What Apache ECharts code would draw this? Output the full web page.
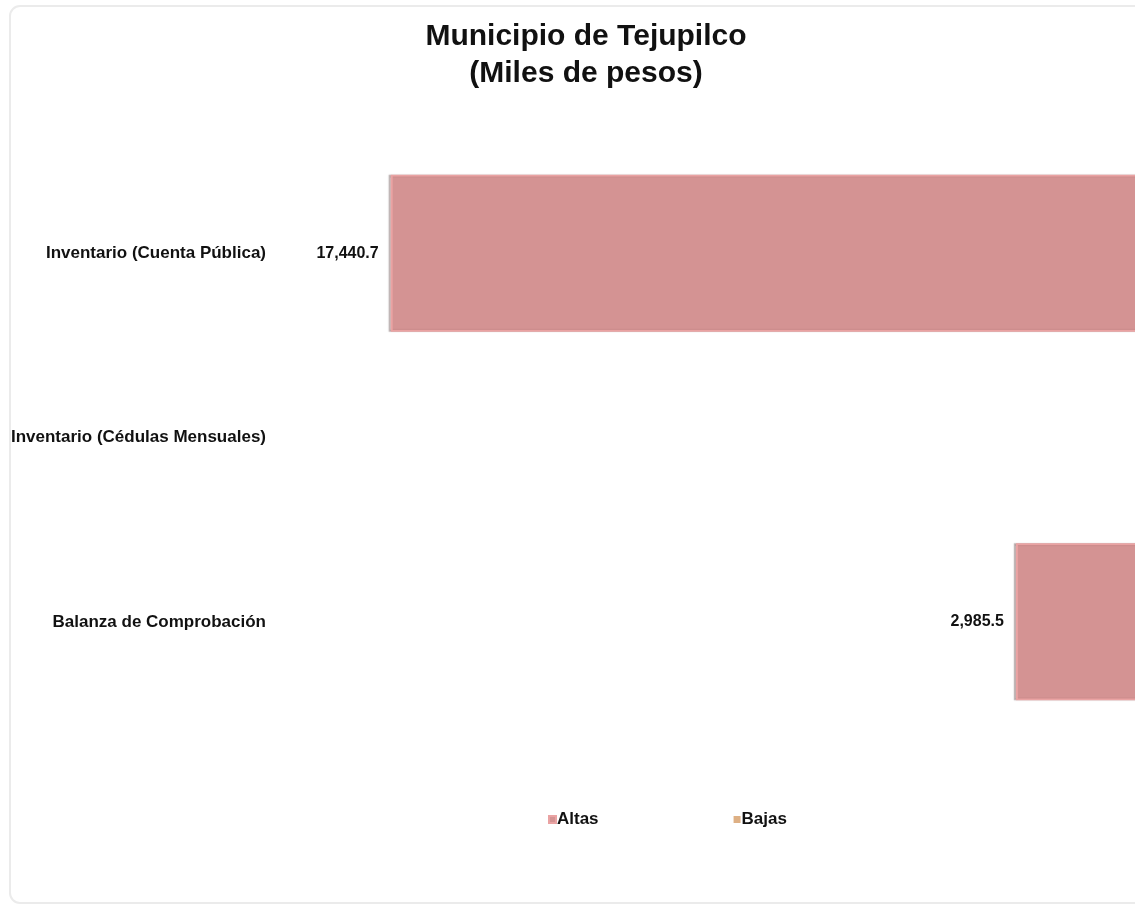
<!DOCTYPE html>
<html>
<head>
<meta charset="utf-8">
<script src="https://cdn.jsdelivr.net/npm/echarts@6/dist/echarts.min.js"></script>
<style>html,body{margin:0;padding:0;background:#fff;}#c{width:1135px;height:907px;}</style>
</head>
<body>
<div id="c"></div>
<script>
const categories = ['Inventario (Cuenta Pública)', 'Inventario (Cédulas Mensuales)', 'Balanza de Comprobación'];
const altas = [17440.7, null, 2985.5];
const bajas = [0, 0, 0];
const seriesNames = ['Altas', 'Bajas'];
const titleText = 'Municipio de Tejupilco\n(Miles de pesos)';

const FONT = 'Liberation Sans, Arial, sans-serif';
const fmt = v => v.toLocaleString('en-US', {minimumFractionDigits: 1, maximumFractionDigits: 1});
const chart = echarts.init(document.getElementById('c'), null, {renderer: 'canvas'});
chart.setOption({
  animation: false,
  backgroundColor: '#fff',
  graphic: [{
    type: 'rect', z: -10, silent: true,
    shape: {x: 10, y: 6, width: 1170, height: 897, r: 10},
    style: {fill: '#fff', stroke: '#ebebeb', lineWidth: 2}
  }],
  title: {
    text: titleText,
    left: 581, top: 13, textAlign: 'center',
    textStyle: {fontFamily: FONT, fontSize: 30, fontWeight: 'bold', color: '#111', lineHeight: 37}
  },
  legend: {
    data: seriesNames,
    left: 543, top: 806,
    itemWidth: 7, itemHeight: 7, itemGap: 135,
    icon: 'rect',
    textStyle: {fontFamily: FONT, fontSize: 17, fontWeight: 'bold', color: '#111', padding: [0,0,0,-4]}
  },
  grid: {left: 280, width: 865, top: 161, bottom: 193, containLabel: false, outerBoundsMode: 'none'},
  xAxis: {type: 'value', inverse: true, min: 0, max: 20000, show: false, splitLine: {show: false}},
  yAxis: {
    type: 'category', data: categories, inverse: true, position: 'left',
    axisLine: {show: false, onZero: false}, axisTick: {show: false},
    axisLabel: {margin: 14, fontFamily: FONT, fontSize: 17, fontWeight: 'bold', color: '#111'}
  },
  series: [{
    name: seriesNames[0], type: 'bar', data: altas, barWidth: 157, barGap: '-100%',
    itemStyle: {color: '#d49393', borderColor: '#eaa3a3', borderWidth: 2, shadowColor: 'rgba(60,30,30,0.35)', shadowBlur: 1, shadowOffsetX: -2, shadowOffsetY: 0},
    label: {show: true, position: 'left', distance: 12, formatter: p => p.value == null ? '' : fmt(p.value),
      fontFamily: FONT, fontSize: 16, fontWeight: 'bold', color: '#111'}
  }, {
    name: seriesNames[1], type: 'bar', data: bajas, barWidth: 157,
    itemStyle: {color: '#deb084', borderWidth: 0},
    label: {show: false}
  }]
});
</script>
</body>
</html>
